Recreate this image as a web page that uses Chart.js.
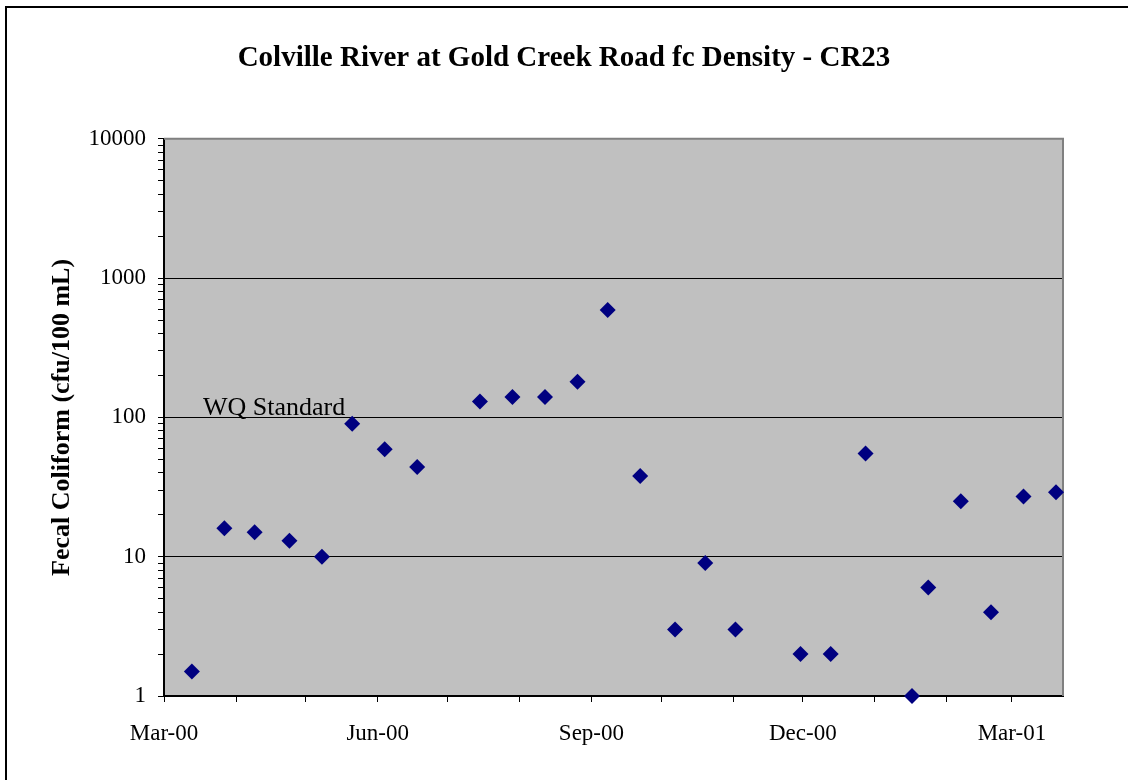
<!DOCTYPE html>
<html>
<head>
<meta charset="utf-8">
<title>Colville River at Gold Creek Road fc Density - CR23</title>
<script src="https://cdn.jsdelivr.net/npm/chart.js@4.4.0/dist/chart.umd.min.js"></script>
<style>
    html, body { margin: 0; padding: 0; background: #fff; }
    #wrap { width: 1128px; height: 780px; }
</style>
</head>
<body>
<div id="wrap"><canvas id="fcDensityChart" width="1128" height="780"></canvas></div>
<script>
// sample dates and fecal coliform counts (cfu/100 mL)
const sampleDates = [
    '2000-03-13', '2000-03-27', '2000-04-09', '2000-04-24', '2000-05-08', '2000-05-21',
    '2000-06-04', '2000-06-18', '2000-07-15', '2000-07-29', '2000-08-12', '2000-08-26',
    '2000-09-08', '2000-09-22', '2000-10-07', '2000-10-20', '2000-11-02', '2000-11-30',
    '2000-12-13', '2000-12-28', '2001-01-17', '2001-01-24', '2001-02-07', '2001-02-20',
    '2001-03-06', '2001-03-20'
];
const fcValues = [
    1.5, 16, 15, 13, 10, 90,
    59, 44, 130, 140, 140, 180,
    590, 38, 3, 9, 3, 2,
    2, 55, 1, 6, 25, 4,
    27, 29
];

// axis ticks: one tick per month, label every third month
const monthTicks = [
    '2000-03-01', '2000-04-01', '2000-05-01', '2000-06-01', '2000-07-01', '2000-08-01',
    '2000-09-01', '2000-10-01', '2000-11-01', '2000-12-01', '2001-01-01', '2001-02-01',
    '2001-03-01'
];
const monthLabels = ['Mar-00', 'Jun-00', 'Sep-00', 'Dec-00', 'Mar-01'];
const yLabelValues = [1, 10, 100, 1000, 10000];
const yGridValues = [10, 100, 1000];
const wqStandard = 100;

const axisStart = '2000-03-01';
const axisEndDays = 387;

function dayNum(s) {
    return (Date.parse(s) - Date.parse(axisStart)) / 86400000;
}

const points = sampleDates.map(function(d, i) {
    return { x: dayNum(d), y: fcValues[i] };
});

const serif = "'Liberation Serif', 'Times New Roman', serif";

// gray plot area, borders and outer frame
const plotBackground = {
    id: 'plotBackground',
    beforeDraw: function(chart) {
        const ctx = chart.ctx;
        const a = chart.chartArea;
        ctx.save();
        ctx.fillStyle = '#ffffff';
        ctx.fillRect(0, 0, chart.width, chart.height);
        ctx.strokeStyle = '#000000';
        ctx.lineWidth = 2;
        ctx.strokeRect(6, 7, chart.width + 20, chart.height + 20);
        ctx.fillStyle = '#c0c0c0';
        ctx.fillRect(a.left, a.top, a.right - a.left, a.bottom - a.top);
        ctx.restore();
    },
    beforeDatasetsDraw: function(chart) {
        const ctx = chart.ctx;
        const a = chart.chartArea;
        ctx.save();
        ctx.strokeStyle = '#808080';
        ctx.lineWidth = 2;
        ctx.beginPath();
        ctx.moveTo(a.left, a.top);
        ctx.lineTo(a.right, a.top);
        ctx.lineTo(a.right, a.bottom);
        ctx.stroke();
        ctx.restore();
    }
};

// "WQ Standard" label sitting on the 100 gridline
const wqLabel = {
    id: 'wqLabel',
    afterDatasetsDraw: function(chart) {
        const ctx = chart.ctx;
        const y = chart.scales.y.getPixelForValue(wqStandard);
        ctx.save();
        ctx.font = '26px ' + serif;
        ctx.fillStyle = '#000000';
        ctx.textAlign = 'left';
        ctx.textBaseline = 'alphabetic';
        ctx.fillText('WQ Standard', chart.chartArea.left + 39, y - 2);
        ctx.restore();
    }
};

new Chart(document.getElementById('fcDensityChart'), {
    type: 'scatter',
    data: {
        datasets: [{
            label: 'fc Density',
            data: points,
            pointStyle: 'rectRot',
            pointRadius: 8,
            pointHoverRadius: 8,
            backgroundColor: '#000080',
            borderColor: '#000080',
            borderWidth: 0,
            clip: false
        }]
    },
    options: {
        responsive: false,
        animation: false,
        layout: {
            padding: 0
        },
        plugins: {
            legend: { display: false },
            tooltip: { enabled: false },
            title: {
                display: true,
                text: 'Colville River at Gold Creek Road fc Density - CR23',
                color: '#000000',
                font: { family: serif, size: 29, weight: 'bold' },
                padding: { top: 41, bottom: 63 }
            }
        },
        scales: {
            x: {
                type: 'linear',
                min: 0,
                max: axisEndDays,
                afterBuildTicks: function(scale) {
                    scale.ticks = monthTicks.map(function(d) { return { value: dayNum(d) }; });
                },
                afterFit: function(scale) {
                    scale.height = 84;
                },
                ticks: {
                    autoSkip: false,
                    maxRotation: 0,
                    padding: 18,
                    color: '#000000',
                    font: { family: serif, size: 23 },
                    callback: function(value, index) {
                        return index % 3 === 0 ? monthLabels[index / 3] : '';
                    }
                },
                grid: {
                    drawOnChartArea: false,
                    tickLength: 6,
                    tickColor: '#000000'
                },
                border: { color: '#000000', width: 2 }
            },
            y: {
                type: 'logarithmic',
                min: 1,
                max: 10000,
                afterBuildTicks: function(scale) {
                    const t = [];
                    for (let dec = 1; dec < 10000; dec *= 10) {
                        for (let k = 1; k < 10; k++) t.push({ value: k * dec });
                    }
                    t.push({ value: 10000 });
                    scale.ticks = t;
                },
                afterFit: function(scale) {
                    scale.width = 164;
                },
                ticks: {
                    autoSkip: false,
                    padding: 12,
                    color: '#000000',
                    font: { family: serif, size: 23 },
                    callback: function(value) {
                        return yLabelValues.includes(value) ? String(value) : '';
                    }
                },
                grid: {
                    color: function(ctx) {
                        return ctx.tick && yGridValues.includes(ctx.tick.value) ? '#000000' : 'rgba(0,0,0,0)';
                    },
                    tickColor: '#000000',
                    tickLength: 6,
                    lineWidth: 1
                },
                border: { color: '#000000', width: 2 },
                title: {
                    display: true,
                    text: 'Fecal Coliform (cfu/100 mL)',
                    color: '#000000',
                    font: { family: serif, size: 26, weight: 'bold' },
                    padding: { top: 47, bottom: 0 }
                }
            },
            // empty right-hand box that keeps the white margin right of the plot
            spacer: {
                type: 'linear',
                axis: 'y',
                position: 'right',
                ticks: { display: false },
                grid: { display: false },
                border: { display: false },
                afterFit: function(scale) {
                    scale.width = 65;
                }
            }
        }
    },
    plugins: [plotBackground, wqLabel]
});
</script>
</body>
</html>
